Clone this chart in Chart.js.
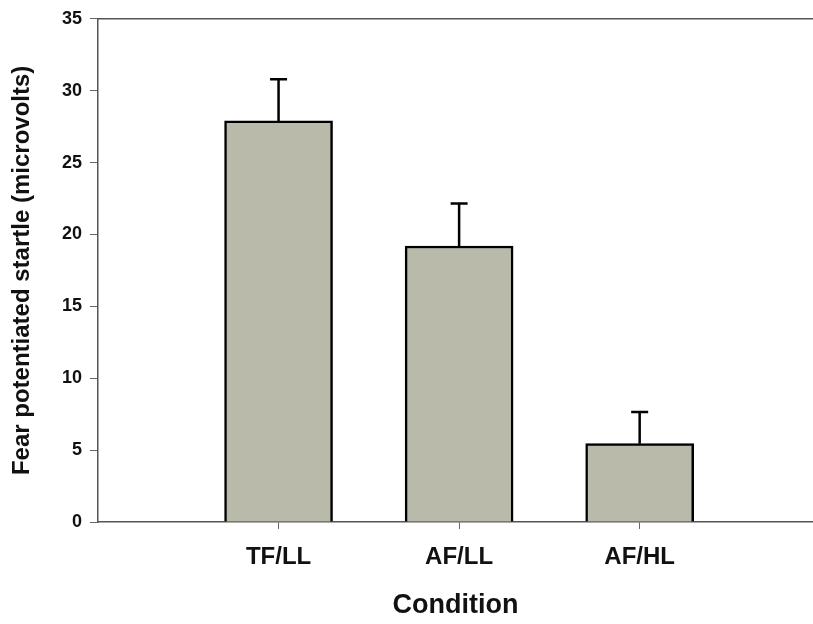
<!DOCTYPE html>
<html lang="en">
<head>
    <meta charset="UTF-8">
    <title>Fear potentiated startle by condition</title>
    <style>
        body, html {
            margin: 0;
            padding: 0;
            background: #ffffff;
            overflow: hidden;
        }
        #wrap {
            width: 813px;
            height: 624px;
        }
    </style>
</head>
<body>
    <div id="wrap"><canvas id="startleChart"></canvas></div>
    <script src="https://cdn.jsdelivr.net/npm/chart.js"></script>
    <script>
        // values
        const conditions = ['TF/LL', 'AF/LL', 'AF/HL'];
        const startleMeans = [27.9, 19.2, 5.45];
        const startleErrors = [2.9, 2.95, 2.2];
        const yTicks = [0, 5, 10, 15, 20, 25, 30, 35];

        const fontFamily = '"Liberation Sans", Arial, sans-serif';

        // upper error bars, positioned through the chart scales
        const errorBars = {
            id: 'errorBars',
            afterDatasetsDraw(chart) {
                const ctx = chart.ctx;
                const xs = chart.scales.x;
                const ys = chart.scales.y;
                ctx.save();
                ctx.strokeStyle = '#000';
                ctx.lineWidth = 2.5;
                conditions.forEach((c, i) => {
                    const px = xs.getPixelForValue(i + 1);
                    const yTop = ys.getPixelForValue(startleMeans[i]);
                    const yErr = ys.getPixelForValue(startleMeans[i] + startleErrors[i]);
                    ctx.beginPath();
                    ctx.moveTo(px, yTop);
                    ctx.lineTo(px, yErr);
                    ctx.moveTo(px - 8.5, yErr);
                    ctx.lineTo(px + 8.5, yErr);
                    ctx.stroke();
                });
                ctx.restore();
            }
        };

        new Chart(document.getElementById('startleChart'), {
            type: 'bar',
            data: {
                datasets: [{
                    data: startleMeans.map((v, i) => ({ x: i + 1, y: v })),
                    backgroundColor: '#B9BAA9',
                    borderColor: '#000',
                    borderWidth: 2.5,
                    barThickness: 108
                }]
            },
            plugins: [errorBars],
            options: {
                responsive: true,
                maintainAspectRatio: false,
                animation: false,
                layout: { padding: { left: 8, top: 16, right: 0, bottom: 0 } },
                plugins: {
                    legend: { display: false },
                    tooltip: { enabled: false }
                },
                scales: {
                    x: {
                        type: 'linear',
                        min: 0,
                        max: 3.96,
                        offset: false,
                        afterBuildTicks: s => { s.ticks = conditions.map((c, i) => ({ value: i + 1 })); },
                        afterFit: s => { s.height = 102; },
                        grid: { offset: false, drawOnChartArea: false, tickLength: 7, color: '#666', lineWidth: 1 },
                        border: { color: '#555', width: 1.5 },
                        ticks: {
                            autoSkip: false,
                            maxRotation: 0,
                            padding: 14,
                            color: '#111',
                            font: { family: fontFamily, size: 24, weight: 'bold' },
                            callback: v => conditions[v - 1] || ''
                        },
                        title: {
                            display: true,
                            text: 'Condition',
                            color: '#111',
                            padding: { top: 0, bottom: 2 },
                            font: { family: fontFamily, size: 27, weight: 'bold' }
                        }
                    },
                    xTop: {
                        type: 'linear',
                        position: 'top',
                        min: 0,
                        max: 3.96,
                        offset: false,
                        afterFit: s => { s.height = 0; },
                        grid: { display: false },
                        border: { color: '#555', width: 1.5 },
                        ticks: { display: false }
                    },
                    y: {
                        min: 0,
                        max: 35,
                        afterBuildTicks: s => { s.ticks = yTicks.map(v => ({ value: v })); },
                        afterFit: s => { s.width = 90; },
                        grid: { drawOnChartArea: false, tickLength: 8, color: '#666', lineWidth: 1 },
                        border: { color: '#555', width: 1.5 },
                        ticks: {
                            padding: 8,
                            color: '#111',
                            font: { family: fontFamily, size: 18, weight: 'bold' }
                        },
                        title: {
                            display: true,
                            text: 'Fear potentiated startle (microvolts)',
                            color: '#111',
                            padding: { top: 0, bottom: 0 },
                            font: { family: fontFamily, size: 24, weight: 'bold' }
                        }
                    }
                }
            }
        });
    </script>
</body>
</html>
